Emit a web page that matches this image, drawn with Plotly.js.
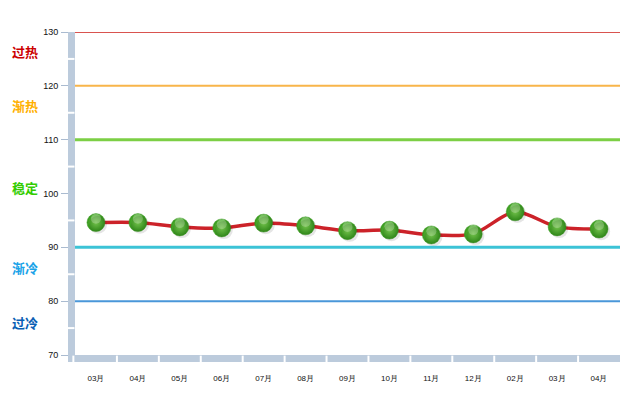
<!DOCTYPE html>
<html><head><meta charset="utf-8">
<script src="https://cdn.plot.ly/plotly-3.0.1.min.js"></script>
<style>html,body{margin:0;padding:0;background:#fff}#c{width:633px;height:394px}</style>
</head><body><div id="c"></div>
<script>
const months = ['03月','04月','05月','06月','07月','08月','09月','10月','11月','12月','02月','03月','04月'];
const values = [94.6, 94.6, 93.8, 93.6, 94.5, 94.0, 93.1, 93.2, 92.3, 92.5, 96.6, 93.8, 93.4];
const levelValues = [130, 120, 110, 90, 80];
const levelColors = ['#d9534f', '#f8b54a', '#7ccf45', '#3cc3d6', '#4a97d9'];
const levelWidths = [2, 2, 3, 3, 2];
const zoneNames = ['过热', '渐热', '稳定', '渐冷', '过冷'];
const zoneY = [126.3, 116.3, 101.2, 86.2, 76.1];
const zoneColors = ['#cc0000', '#ffb000', '#33cc00', '#1aa3e8', '#0a5fb4'];
const wallBreaks = [75, 85, 95, 105, 115, 125];

const idx = months.map((m, i) => i);

const shapes = levelValues.map((v, i) => ({
  type: 'line', xref: 'paper', yref: 'y', x0: 0, x1: 1, y0: v, y1: v,
  line: {color: levelColors[i], width: levelWidths[i]}, layer: 'below'
}));
wallBreaks.forEach(v => shapes.push({
  type: 'line', xref: 'paper', yref: 'y', x0: -0.016, x1: -0.001, y0: v, y1: v,
  line: {color: '#ffffff', width: 2}, layer: 'above'
}));
idx.slice(1).forEach(i => shapes.push({
  type: 'line', xref: 'x', yref: 'paper', x0: i - 0.5, x1: i - 0.5, y0: -0.025, y1: -0.002,
  line: {color: '#ffffff', width: 2}, layer: 'above'
}));
shapes.push({
  type: 'line', xref: 'paper', yref: 'paper', x0: -0.003, x1: -0.003, y0: -0.025, y1: -0.002,
  line: {color: '#ffffff', width: 2}, layer: 'above'
});

const annotations = zoneNames.map((t, i) => ({
  text: '<b>' + t + '</b>', xref: 'paper', yref: 'y', x: -0.119, y: zoneY[i],
  xanchor: 'left', yanchor: 'middle', showarrow: false,
  font: {family: 'Noto Sans CJK SC', size: 13, color: zoneColors[i]}
}));

const traces = [
  {x: idx, y: values, type: 'scatter', mode: 'markers', xaxis: 'x2', yaxis: 'y2',
   marker: {size: 18, color: 'rgba(0,0,0,0.10)'}, hoverinfo: 'skip'},
  {x: idx, y: values, type: 'scatter', mode: 'lines',
   line: {color: '#cc2229', width: 3.5, shape: 'spline', smoothing: 0.8}},
  {x: idx, y: values, type: 'scatter', mode: 'markers',
   marker: {size: 18, color: '#35961c', line: {color: '#3c9c22', width: 0.5},
            gradient: {type: 'radial', color: '#80d955'}}},
  {x: idx, y: values, type: 'scatter', mode: 'markers', xaxis: 'x', yaxis: 'y3',
   marker: {size: 10, color: 'rgba(235,255,225,0.32)', line: {width: 0}}, hoverinfo: 'skip'}
];

const layout = {
  width: 633, height: 394,
  margin: {l: 75, r: 13, t: 32, b: 39},
  paper_bgcolor: '#ffffff', plot_bgcolor: '#ffffff',
  showlegend: false,
  font: {family: 'Liberation Sans, Arial, sans-serif', color: '#222'},
  xaxis: {
    range: [-0.5, 12.5], tickvals: idx, ticktext: months, showgrid: false, zeroline: false,
    showline: true, linecolor: '#bccbdc', linewidth: 7,
    ticks: '', tickfont: {size: 8, color: '#111'}, ticklabelstandoff: 9
  },
  yaxis: {
    range: [70, 130], dtick: 10, showgrid: false, zeroline: false,
    showline: true, linecolor: '#bccbdc', linewidth: 7,
    ticks: 'outside', ticklen: 7, tickcolor: '#aabbd0', tickwidth: 1,
    tickfont: {size: 9, color: '#111'}, ticklabelstandoff: 1
  },
  xaxis2: {overlaying: 'x', range: [-0.5 - 0.05, 12.5 - 0.05], visible: false},
  yaxis2: {overlaying: 'y', range: [70 + 0.4, 130 + 0.4], visible: false},
  yaxis3: {overlaying: 'y', range: [70 - 0.7, 130 - 0.7], visible: false},
  shapes: shapes,
  annotations: annotations
};

Plotly.newPlot('c', traces, layout, {displayModeBar: false, staticPlot: true});
</script></body></html>
